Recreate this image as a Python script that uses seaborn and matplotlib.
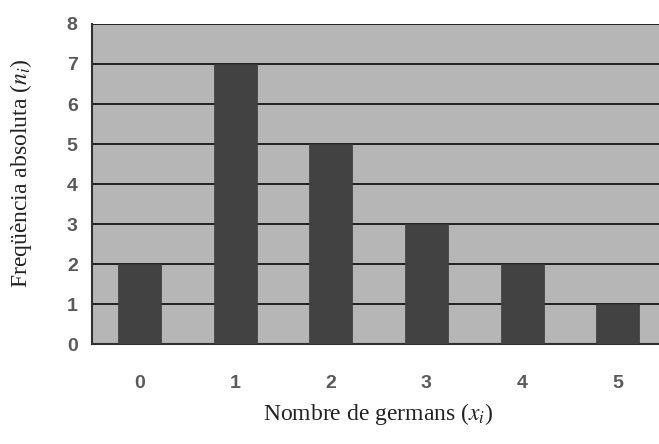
import matplotlib
matplotlib.use('Agg')
import matplotlib.pyplot as plt
import pandas as pd
import seaborn as sns

germans = ['0', '1', '2', '3', '4', '5']
freq = [2, 7, 5, 3, 2, 1]

df = pd.DataFrame({'germans': germans, 'freq': freq})

sns.set_style('white')
plt.rcParams['mathtext.fontset'] = 'stix'

fig = plt.figure(figsize=(6.59, 4.44), dpi=100)
ax = fig.add_axes([0.139, 0.225, 0.871, 0.721])
ax.set_facecolor('#b6b6b6')

sns.barplot(data=df, x='germans', y='freq', ax=ax, color='#424242',
            width=0.45, saturation=1, edgecolor='#3a3a3a', linewidth=0.5, zorder=3)

ax.set_ylim(0, 8)
ax.set_xlim(-0.5, 5.5)
ax.set_yticks(range(0, 9))
ax.yaxis.grid(True, color='#202020', linewidth=1.4, zorder=1)
ax.set_axisbelow(True)

ax.set_xticks([i + 0.5 for i in range(-1, 6)], minor=True)
ax.tick_params(axis='x', which='major', length=0, pad=22)
ax.tick_params(axis='x', which='minor', length=5, width=1.2, color='#303030')
ax.tick_params(axis='y', length=6, width=1.2, color='#303030', pad=4)

for lab in ax.get_xticklabels() + ax.get_yticklabels():
    lab.set_fontfamily('Liberation Sans')
    lab.set_fontweight('bold')
    lab.set_fontsize(14)
    lab.set_color('#5a5a5a')

for s in ['top', 'right']:
    ax.spines[s].set_visible(False)
for s in ['left', 'bottom']:
    ax.spines[s].set_color('#303030')
    ax.spines[s].set_linewidth(1.5)

ax.set_xlabel('Nombre de germans ($x_i$)', fontfamily='Liberation Serif',
              fontsize=17, color='#222222', labelpad=7)
ax.set_ylabel('Freqüència absoluta ($n_i$)', fontfamily='Liberation Serif',
              fontsize=17, color='#222222')
ax.yaxis.set_label_coords(-0.100, 0.535)

fig.savefig('out.png', dpi=100)
